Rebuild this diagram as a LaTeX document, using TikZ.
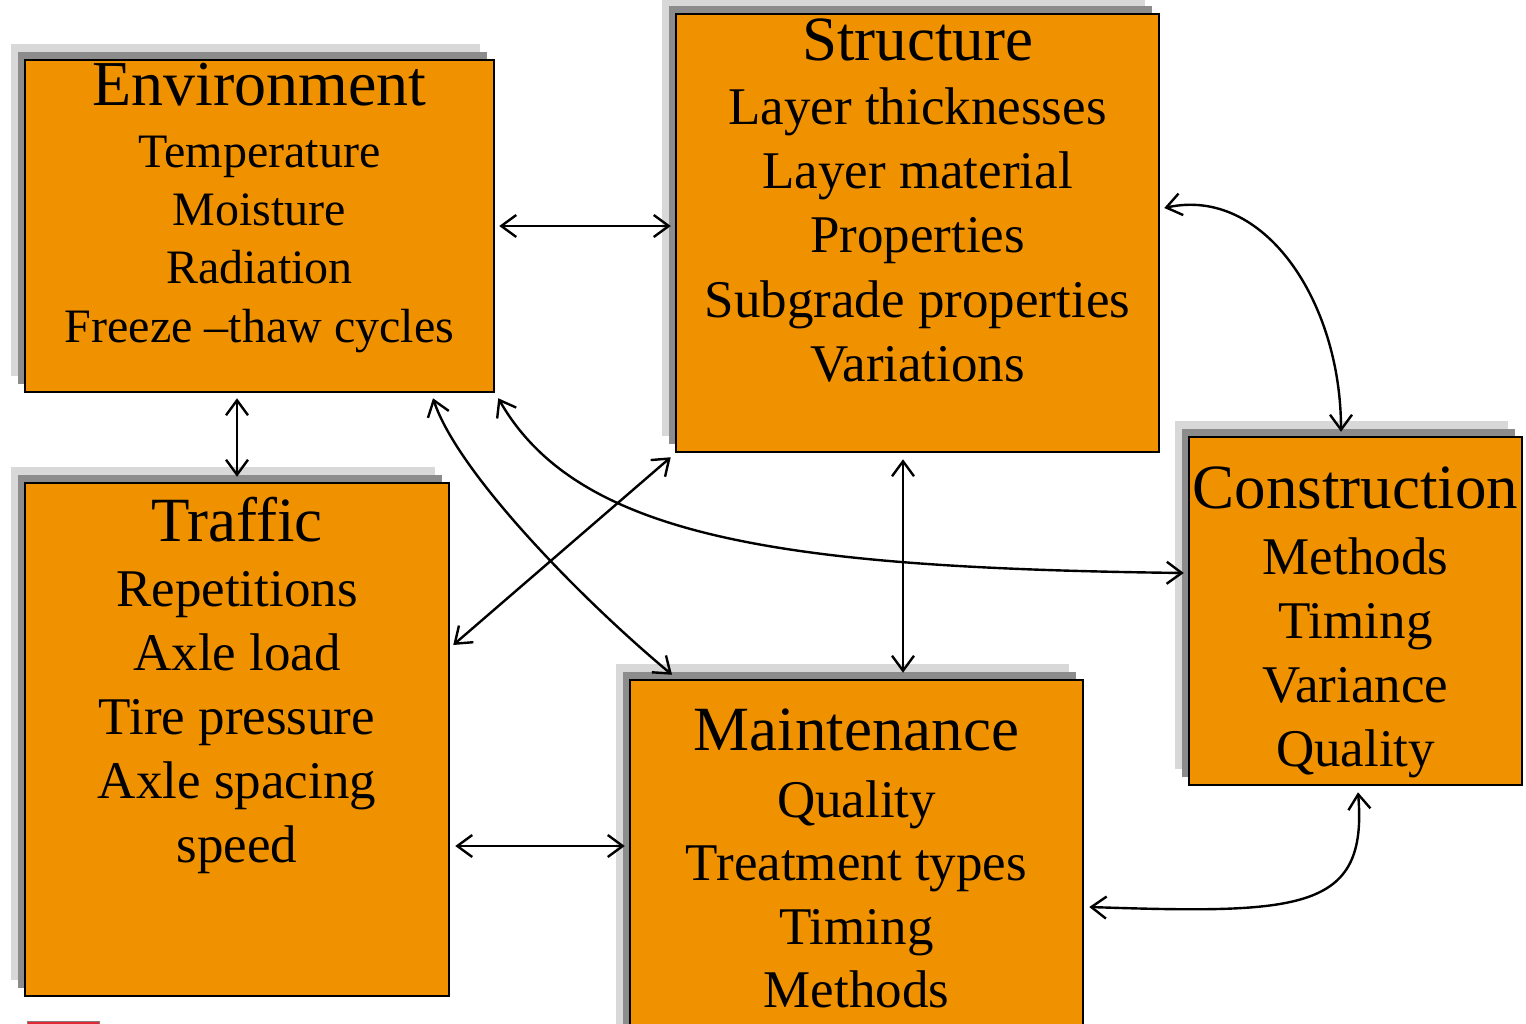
\documentclass[tikz,border=0pt]{standalone}
\usepackage{fontspec}
\setmainfont{Liberation Serif}
\usetikzlibrary{arrows.meta,shadows,calc}

\definecolor{boxorange}{RGB}{240,146,0}
\definecolor{shlight}{RGB}{216,216,216}
\definecolor{shdark}{RGB}{140,140,140}
\definecolor{barred}{RGB}{226,40,52}

\tikzset{
  box/.style={draw=black, line width=2.5pt, fill=boxorange, inner sep=0pt,
    general shadow={shadow xshift=-14pt, shadow yshift=16pt, fill=shlight},
    general shadow={shadow xshift=-7pt, shadow yshift=8pt, fill=shdark}},
  ttl/.style={anchor=base, inner sep=0pt, font=\fontsize{63}{76}\selectfont},
  bodysmall/.style={anchor=base, inner sep=0pt, font=\fontsize{48}{58}\selectfont},
  bodybig/.style={anchor=base, inner sep=0pt, font=\fontsize{53}{64}\selectfont},
  tip/.tip={Straight Barb[length=15pt,width=22pt]},
  arr/.style={draw=black, line width=2.4pt, tip-tip},
}

\begin{document}
\begin{tikzpicture}[x=1pt,y=-1pt]
  \useasboundingbox (0,0) rectangle (1526,1024);
  \fill[white] (0,0) rectangle (1526,1024);

  % boxes
  \node[box, minimum width=469pt, minimum height=332pt] (env) at (259.5,226) {};
  \node[box, minimum width=483pt, minimum height=438pt] (str) at (917.5,233) {};
  \node[box, minimum width=333pt, minimum height=348pt] (cons) at (1355.5,611) {};
  \node[box, minimum width=424pt, minimum height=513pt] (trf) at (237,739.5) {};
  \node[box, minimum width=453pt, minimum height=360pt] (mnt) at (856.5,860) {};

  % small red bar at the lower edge
  \fill[barred, draw=gray, line width=1pt] (27,1021) rectangle (99,1034);

  % Environment
  \node[ttl, font=\fontsize{64}{76}\selectfont] (envt) at (259.5,106) {Environment};
  \foreach \t [count=\i] in {Temperature, Moisture, Radiation, {Freeze –thaw cycles}}
    \node[bodysmall, name=env\i] at (259.5,{168+58*(\i-1)}) {\t};

  % Structure
  \node[ttl] (strt) at (917.5,61) {Structure};
  \foreach \t [count=\i] in {Layer thicknesses, Layer material, Properties, Subgrade properties, Variations}
    \node[bodybig, name=str\i] at (917.5,{125+64*(\i-1)}) {\t};

  % Construction
  \node[ttl] (const) at (1355.5,508) {Construction};
  \foreach \t [count=\i] in {Methods, Timing, Variance, Quality}
    \node[bodybig, name=cons\i] at (1355.5,{574+64*(\i-1)}) {\t};

  % Traffic
  \node[ttl] (trft) at (237,541) {Traffic};
  \foreach \t [count=\i] in {Repetitions, Axle load, Tire pressure, Axle spacing, speed}
    \node[bodybig, name=trf\i] at (237,{606+64*(\i-1)}) {\t};

  % Maintenance
  \node[ttl] (mntt) at (856.5,750) {Maintenance};
  \foreach \t [count=\i] in {Quality, Treatment types, Timing, Methods}
    \node[bodybig, name=mnt\i] at (856.5,{817+63.5*(\i-1)}) {\t};

  % connectors
  \draw[arr] ([shift={(4,0)}]env.east) -- ([shift={(-4,0)}]env.east -| str.west);
  \draw[arr] ([shift={(0,5)}]env.south -| trf.north) -- ([shift={(0,-5)}]trf.north);
  \draw[arr] ([shift={(4,-25)}]str.east) .. controls +(100,-22) and +(0,-130) .. ([shift={(-14.5,-4)}]cons.north);
  \draw[arr] ([shift={(3,5)}]env.south east) .. controls +(80,140) and +(-400,-5) .. ([shift={(-4,-38)}]cons.west);
  \draw[arr] ([shift={(173.5,5)}]env.south) .. controls +(25,75) and +(-90,-75) .. ([shift={(-184.5,-4)}]mnt.north);
  \draw[arr] ([shift={(3,-94.5)}]trf.east) -- ([shift={(-4,4)}]str.south west);
  \draw[arr] ([shift={(-14.5,6)}]str.south) -- ([shift={(46.5,-6)}]mnt.north);
  \draw[arr] ([shift={(5,106.5)}]trf.east) coordinate (a8) -- ([shift={(-4,0)}]a8 -| mnt.west);
  \draw[arr] ([shift={(5,47)}]mnt.east) .. controls +(212,7) and +(10,119) .. ([shift={(2.5,6)}]cons.south);
\end{tikzpicture}
\end{document}
